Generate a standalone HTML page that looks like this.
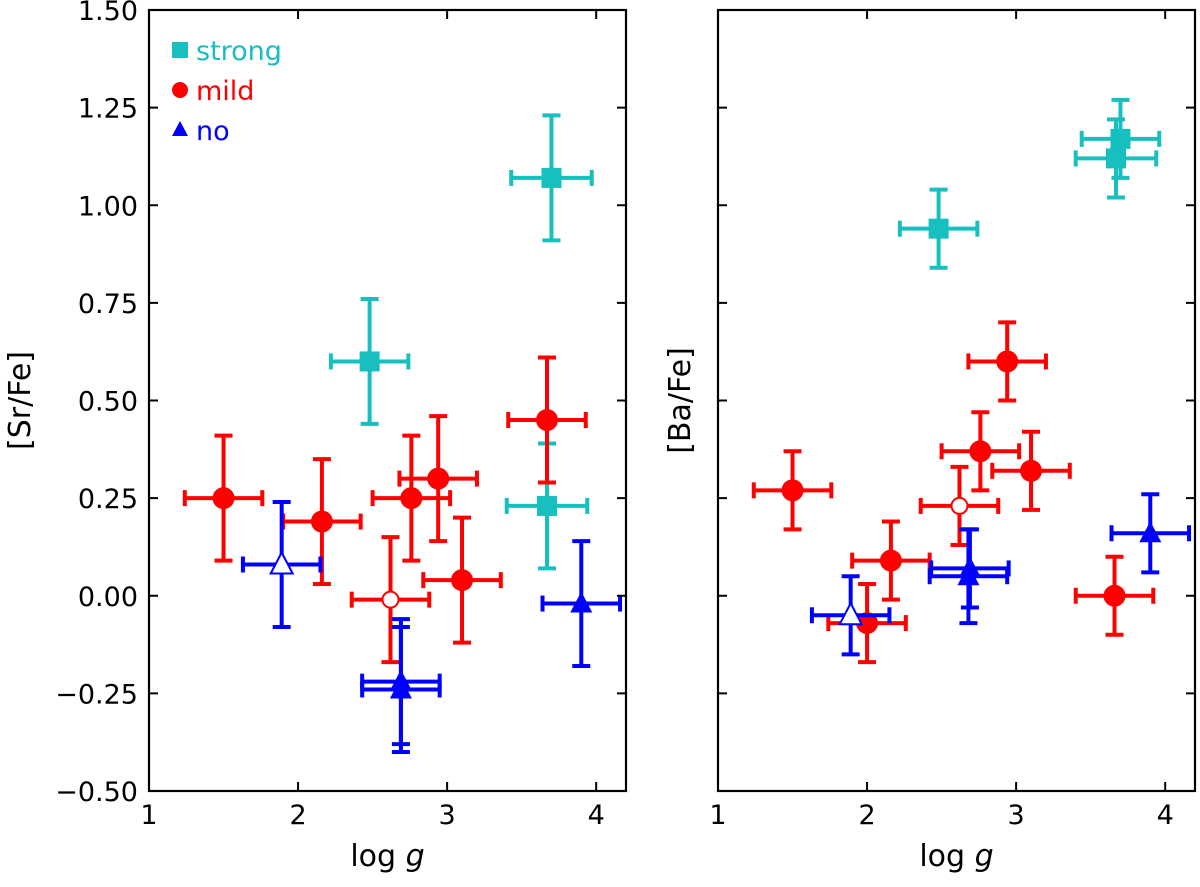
<!DOCTYPE html>
<html><head><meta charset="utf-8">
<style>
html,body{margin:0;padding:0;background:#fff;}
svg text{font-family:"DejaVu Sans","Liberation Sans",sans-serif;}
</style></head>
<body>
<svg id="chart" width="1200" height="882" viewBox="0 0 1200 882" xmlns="http://www.w3.org/2000/svg"></svg>
<script>
// ---- data ----
const xTicks = [1, 2, 3, 4];
const yTicks = [-0.5, -0.25, 0, 0.25, 0.5, 0.75, 1.0, 1.25, 1.5];
const yTickLabels = ["\u22120.50","\u22120.25","0.00","0.25","0.50","0.75","1.00","1.25","1.50"];
// Sr panel: [logg, value, xerr, yerr, open(1)/filled(0)]
const srStrong = [[2.48,0.60,0.26,0.16,0],[3.70,1.07,0.27,0.16,0],[3.67,0.23,0.27,0.16,0]];
const srMild = [[1.50,0.25,0.26,0.16,0],[2.16,0.19,0.26,0.16,0],[2.76,0.25,0.26,0.16,0],[2.94,0.30,0.26,0.16,0],[3.10,0.04,0.26,0.16,0],[3.67,0.45,0.26,0.16,0],[2.62,-0.01,0.26,0.16,1]];
const srNo = [[1.89,0.08,0.26,0.16,1],[2.69,-0.22,0.26,0.16,0],[2.69,-0.24,0.26,0.16,0],[3.90,-0.02,0.26,0.16,0]];
// Ba panel
const baStrong = [[2.48,0.94,0.26,0.10,0],[3.70,1.17,0.26,0.10,0],[3.67,1.12,0.27,0.10,0]];
const baMild = [[1.50,0.27,0.26,0.10,0],[2.00,-0.07,0.26,0.10,0],[2.16,0.09,0.26,0.10,0],[2.76,0.37,0.26,0.10,0],[2.94,0.60,0.26,0.10,0],[3.10,0.32,0.26,0.10,0],[3.66,0.00,0.26,0.10,0],[2.62,0.23,0.26,0.10,1]];
const baNo = [[1.89,-0.05,0.26,0.10,1],[2.69,0.07,0.26,0.10,0],[2.68,0.05,0.26,0.12,0],[3.90,0.16,0.26,0.10,0]];

const NS = "http://www.w3.org/2000/svg";
const svg = document.getElementById("chart");
const COL = {strong:"#17bfbf", mild:"#ff0000", no:"#0000ff"};
function mk(tag, attrs, parent){
  const e = document.createElementNS(NS, tag);
  for (const k in attrs) e.setAttribute(k, attrs[k]);
  (parent||svg).appendChild(e);
  return e;
}
const plotTop = 10, plotBot = 791, xmin = 1, xmax = 4.2, ymin = -0.5, ymax = 1.5;

function panel(left, right, name, ylabel, showY, sets){
  const g = mk("g", {});
  
  
  const sx = v => left + (v - xmin) / (xmax - xmin) * (right - left);
  const sy = v => plotBot - (v - ymin) / (ymax - ymin) * (plotBot - plotTop);
  sets.forEach(([arr, kind]) => {
    const c = COL[kind];
    arr.forEach(d => {
      const [x, y, xe, ye, open] = d;
      const pg = mk("g", {}, g);
      
      
      const px = sx(x), py = sy(y);
      const x1 = sx(x - xe), x2 = sx(x + xe), y1 = sy(y - ye), y2 = sy(y + ye);
      const st = {stroke:c, "stroke-width":4, fill:"none"};
      mk("line", Object.assign({x1:x1, y1:py, x2:x2, y2:py}, st), pg);
      mk("line", Object.assign({x1:px, y1:y1, x2:px, y2:y2}, st), pg);
      mk("line", Object.assign({x1:x1, y1:py-8, x2:x1, y2:py+8}, st), pg);
      mk("line", Object.assign({x1:x2, y1:py-8, x2:x2, y2:py+8}, st), pg);
      mk("line", Object.assign({x1:px-9, y1:y1, x2:px+9, y2:y1}, st), pg);
      mk("line", Object.assign({x1:px-9, y1:y2, x2:px+9, y2:y2}, st), pg);
      const fill = open ? "#fff" : c;
      if (kind === "strong") mk("rect", {x:px-10, y:py-10, width:20, height:20, fill:fill, stroke:c, "stroke-width":open?2:0}, pg);
      else if (kind === "mild") mk("circle", {cx:px, cy:py, r: open?8:11, fill:fill, stroke:c, "stroke-width":open?2:0}, pg);
      else mk("polygon", {points:`${px},${py-12} ${px+11},${py+9} ${px-11},${py+9}`, fill:fill, stroke:c, "stroke-width":open?2:0}, pg);
    });
  });
  const fr = mk("rect", {x:left, y:plotTop, width:right-left, height:plotBot-plotTop, fill:"none", stroke:"#000", "stroke-width":2.2}, g);
  
  
  xTicks.forEach(t => {
    const x = sx(t);
    mk("line", {x1:x, y1:plotBot, x2:x, y2:plotBot-9, stroke:"#000", "stroke-width":2}, g);
    mk("line", {x1:x, y1:plotTop, x2:x, y2:plotTop+9, stroke:"#000", "stroke-width":2}, g);
    const tl = mk("text", {x:x, y:plotBot+33, "text-anchor":"middle", "font-size":27}, g);
    tl.textContent = t;
    
    
  });
  yTicks.forEach((t, i) => {
    const y = sy(t);
    mk("line", {x1:left, y1:y, x2:left+9, y2:y, stroke:"#000", "stroke-width":2}, g);
    mk("line", {x1:right, y1:y, x2:right-9, y2:y, stroke:"#000", "stroke-width":2}, g);
    if (showY) {
      const tl = mk("text", {x:left-11, y:y+10, "text-anchor":"end", "font-size":27}, g);
      tl.textContent = yTickLabels[i];
      
      
    }
  });
  const xl = mk("text", {x:(left+right)/2, y:866, "text-anchor":"middle", "font-size":30}, g);
  xl.innerHTML = 'log <tspan font-style="italic">g</tspan>';
  
  
  const yx = showY ? 30 : 690, yy = (plotTop+plotBot)/2;
  const yl = mk("text", {x:yx, y:yy, "text-anchor":"middle", "font-size":30, transform:`rotate(-90 ${yx} ${yy})`}, g);
  yl.textContent = ylabel;
  
  
}
panel(149, 626, "sr-panel", "[Sr/Fe]", true, [[srStrong,"strong"],[srMild,"mild"],[srNo,"no"]]);
panel(718, 1195, "ba-panel", "[Ba/Fe]", false, [[baStrong,"strong"],[baMild,"mild"],[baNo,"no"]]);

const leg = mk("g", {});


const legEntries = [["strong", 60], ["mild", 100], ["no", 140]];
legEntries.forEach(([k, y]) => {
  const e = mk("g", {}, leg);
  
  
  const c = COL[k], px = 180;
  if (k === "strong") mk("rect", {x:px-8, y:y-18, width:16, height:16, fill:c}, e);
  else if (k === "mild") mk("circle", {cx:px, cy:y-10, r:8, fill:c}, e);
  else mk("polygon", {points:`${px},${y-19} ${px+8},${y-4} ${px-8},${y-4}`, fill:c}, e);
  const t = mk("text", {x:196, y:y, "font-size":27, fill:c}, e);
  t.textContent = k;
});
</script>
</body></html>
